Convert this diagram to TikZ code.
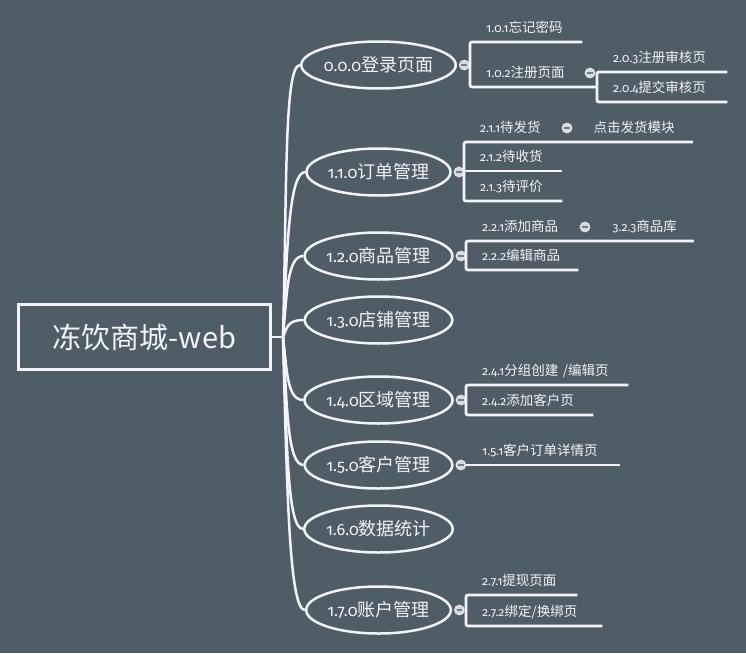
\documentclass[tikz,border=0pt]{standalone}
\usepackage{fontspec}
\setmainfont{Noto Sans CJK SC}
\newfontfamily\numfont[Numbers=OldStyle,Scale=0.9]{Fira Sans}
\usetikzlibrary{shapes.geometric,positioning}
\definecolor{slate}{HTML}{4F5D67}
\definecolor{inkwhite}{HTML}{F2F4F5}
\definecolor{foldgray}{HTML}{D5DADD}
\newcommand*\nr[1]{{\numfont #1}}
\newcommand*\topicw{143}
\newcommand*\topich{47}
\tikzset{
    rootbox/.style = {draw=inkwhite, line width=3pt,
                      minimum width=252, minimum height=65,
                      text=inkwhite, font=\fontsize{29}{33}\selectfont},
    topic/.style   = {draw=inkwhite, ellipse, line width=2.5pt,
                      minimum width=\topicw, minimum height=\topich, inner sep=0pt,
                      text=inkwhite, font=\fontsize{18}{21}\selectfont},
    leaf/.style    = {anchor=south west, text width=#1pt, align=left,
                      inner xsep=16pt, inner ysep=6pt,
                      text height=10pt, text depth=3pt,
                      text=inkwhite, font=\fontsize{13.5}{16}\selectfont},
    fold/.style    = {circle, fill=foldgray, draw=inkwhite, line width=0.6pt,
                      minimum size=10pt, inner sep=0pt,
                      path picture={\draw[slate!80, line width=1.3pt]
                        ([xshift=-2.8pt]path picture bounding box.center) --
                        ([xshift=2.8pt]path picture bounding box.center);}},
    branch/.style  = {draw=inkwhite, line width=2.5pt},
    twig/.style    = {draw=inkwhite, line width=2.8pt, rounded corners=2pt},
  }

\begin{document}
\begin{tikzpicture}[x=1pt, y=-1pt]
        % background and page size
        \fill[slate] (0,0) rectangle (746,653);
        \useasboundingbox (0,0) rectangle (746,653);

        % central topic
        \node[rootbox] (root) at (144.5,337) {冻饮商城-web};
        \coordinate (hub) at (283,337);
        \draw[branch] (root.east) -- (hub);

        % main topics, each with a curved branch from the hub
        \foreach \id/\ty/\lbl in {t0/65/{\nr{0.0.0}登录页面},
                                  t1/172/{\nr{1.1.0}订单管理},
                                  t2/256/{\nr{1.2.0}商品管理},
                                  t3/320/{\nr{1.3.0}店铺管理},
                                  t4/400/{\nr{1.4.0}区域管理},
                                  t5/465/{\nr{1.5.0}客户管理},
                                  t6/529/{\nr{1.6.0}数据统计},
                                  t7/610/{\nr{1.7.0}账户管理}} {
            \node[topic] (\id) at (378.5,\ty) {\lbl};
            \draw[branch] (hub) .. controls +(4,{(\ty-337)*0.55}) and +(-16,0) .. (\id.west);
        }

        % fold buttons of the topics that have children
        \foreach \id in {t0,t1,t2,t4,t5,t7} {
            \node[fold, right=2pt of \id] (\id-f) {};
        }

        % 0.0.0 children
        \node[leaf=80] (n101) at (470,42)  {\nr{1.0.1}忘记密码};
        \node[leaf=95] (n102) at (470,87)  {\nr{1.0.2}注册页面};
        \node[leaf=98] (n203) at (597,72)  {\nr{2.0.3}注册审核页};
        \node[leaf=98] (n204) at (597,102) {\nr{2.0.4}提交审核页};
        \draw[twig] (t0-f.east) -- (t0-f.east -| n101.south west);
        \draw[twig] (n101.south east) -- (n101.south west) -- (n102.south west) -- (n102.south east);
        \draw[twig] (n203.south east) -- (n203.south west) -- (n204.south west) -- (n204.south east);
        \node[fold] (n102-f) at (590,73) {};

        % 1.1.0 children
        \node[leaf=81] (n211) at (464,142) {\nr{2.1.1}待发货};
        \node[leaf=83] (n311) at (n211.south east) {点击发货模块};
        \node[leaf=66] (n212) at (464,171) {\nr{2.1.2}待收货};
        \node[leaf=66] (n213) at (464,201) {\nr{2.1.3}待评价};
        \draw[twig] (t1-f.east) -- (t1-f.east -| n211.south west);
        \draw[twig] (n311.south east) -- (n211.south west) -- (n213.south west) -- (n213.south east);
        \draw[twig] (n212.south west) -- (n212.south east);
        \node[fold] (n211-f) at (567,128) {};

        % 1.2.0 children
        \node[leaf=98] (n221) at (466,241) {\nr{2.2.1}添加商品};
        \node[leaf=65] (n323) at (n221.south east) {\nr{3.2.3}商品库};
        \node[leaf=80] (n222) at (466,270) {\nr{2.2.2}编辑商品};
        \draw[twig] (t2-f.east) -- (t2-f.east -| n221.south west);
        \draw[twig] (n323.south east) -- (n221.south west) -- (n222.south west) -- (n222.south east);
        \node[fold] (n221-f) at (585,227) {};

        % 1.4.0 children
        \node[leaf=130] (n241) at (466,385) {\nr{2.4.1}分组创建 /编辑页};
        \node[leaf=95]  (n242) at (466,415) {\nr{2.4.2}添加客户页};
        \draw[twig] (t4-f.east) -- (t4-f.east -| n241.south west);
        \draw[twig] (n241.south east) -- (n241.south west) -- (n242.south west) -- (n242.south east);

        % 1.5.0 child
        \node[leaf=122] (n151) at (466,465) {\nr{1.5.1}客户订单详情页};
        \draw[twig] (t5-f.east) -- (n151.south west) -- (n151.south east);

        % 1.7.0 children
        \node[leaf=79]  (n271) at (466,595) {\nr{2.7.1}提现页面};
        \node[leaf=104] (n272) at (466,626) {\nr{2.7.2}绑定/换绑页};
        \draw[twig] (t7-f.east) -- (t7-f.east -| n271.south west);
        \draw[twig] (n271.south east) -- (n271.south west) -- (n272.south west) -- (n272.south east);
    \end{tikzpicture}
\end{document}
